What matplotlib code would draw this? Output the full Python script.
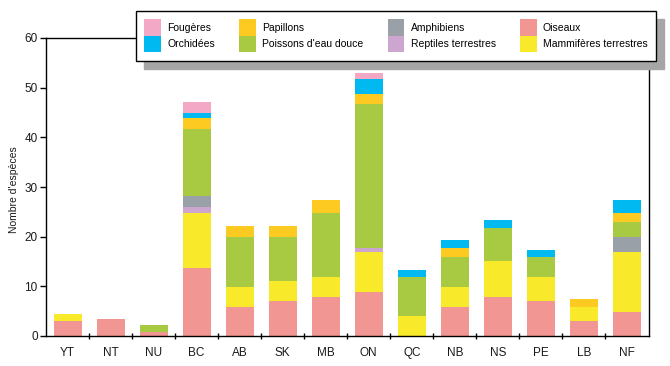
import matplotlib

matplotlib.use("Agg")
import matplotlib.pyplot as plt
import numpy as np
from matplotlib.patches import Patch

plt.rcParams["font.family"] = ["Liberation Sans", "DejaVu Sans"]

provinces = ["YT", "NT", "NU", "BC", "AB", "SK", "MB", "ON", "QC", "NB", "NS", "PE", "LB", "NF"]

# stacked from the bottom up
oiseaux = [3.0, 3.4, 0.9, 13.7, 5.8, 7.0, 7.8, 8.8, 0.0, 5.8, 7.8, 7.0, 3.0, 4.8]
mammiferes = [1.4, 0.0, 0.0, 11.0, 4.0, 4.0, 4.0, 8.1, 4.0, 4.0, 7.3, 4.8, 2.8, 12.1]
reptiles = [0.0, 0.0, 0.0, 1.2, 0.0, 0.0, 0.0, 0.8, 0.0, 0.0, 0.0, 0.0, 0.0, 0.0]
amphibiens = [0.0, 0.0, 0.0, 2.2, 0.0, 0.0, 0.0, 0.0, 0.0, 0.0, 0.0, 0.0, 0.0, 3.0]
poissons = [0.0, 0.0, 1.3, 13.5, 10.1, 8.9, 12.9, 29.1, 7.8, 6.1, 6.6, 4.1, 0.0, 3.0]
papillons = [0.0, 0.0, 0.0, 2.2, 2.2, 2.2, 2.6, 2.0, 0.0, 1.8, 0.0, 0.0, 1.6, 1.8]
orchidees = [0.0, 0.0, 0.0, 1.0, 0.0, 0.0, 0.0, 3.0, 1.5, 1.6, 1.6, 1.4, 0.0, 2.6]
fougeres = [0.0, 0.0, 0.0, 2.4, 0.0, 0.0, 0.0, 1.2, 0.0, 0.0, 0.0, 0.0, 0.0, 0.0]

series = [
    ("Oiseaux", oiseaux, "#f19692"),
    ("Mammifères terrestres", mammiferes, "#f9e92b"),
    ("Reptiles terrestres", reptiles, "#cda6cf"),
    ("Amphibiens", amphibiens, "#9aa0a7"),
    ("Poissons d'eau douce", poissons, "#a8c942"),
    ("Papillons", papillons, "#fdca22"),
    ("Orchidées", orchidees, "#00b9f1"),
    ("Fougères", fougeres, "#f3a9c5"),
]
colors = {name: c for name, _, c in series}

# legend reads column by column
legend_order = [
    "Fougères", "Orchidées",
    "Papillons", "Poissons d'eau douce",
    "Amphibiens", "Reptiles terrestres",
    "Oiseaux", "Mammifères terrestres",
]

fig = plt.figure(figsize=(6.7, 3.66), dpi=100)
ax = fig.add_axes([46 / 670, 30 / 366, 602.5 / 670, 298 / 366])

x = np.arange(len(provinces))
bottom = np.zeros(len(provinces))
for name, values, color in series:
    values = np.array(values)
    ax.bar(x, values, 0.65, bottom=bottom, color=color, linewidth=0, zorder=2)
    bottom += values

ax.set_xlim(-0.5, len(provinces) - 0.5)
ax.set_ylim(0, 60)
ax.set_yticks(range(0, 61, 10))
ax.set_xticks(x)
ax.set_xticklabels(provinces)
ax.set_xticks(x[:-1] + 0.5, minor=True)

ax.tick_params(axis="x", which="major", length=0, pad=8, labelsize=8.5, colors="#1a1a1a")
ax.tick_params(axis="x", which="minor", direction="inout", length=4, width=1, color="black")
ax.tick_params(axis="y", direction="out", length=4, width=1, pad=2, labelsize=8.5,
               color="black", labelcolor="#1a1a1a")

for side in ("left", "right", "top", "bottom"):
    ax.spines[side].set_linewidth(1.0)
    ax.spines[side].set_color("black")

ax.set_ylabel("Nombre d'espèces", fontsize=7.5, labelpad=4, color="#1a1a1a")
ax.yaxis.label.set_y(0.49)

handles = [Patch(facecolor=colors[n], edgecolor="none", label=n) for n in legend_order]
leg = ax.legend(
    handles=handles,
    ncol=4,
    loc="upper left",
    bbox_to_anchor=(136 / 670, 0.0, 520 / 670, 1 - 11 / 366),
    bbox_transform=fig.transFigure,
    mode="expand",
    borderaxespad=0,
    borderpad=0.8,
    fontsize=7.5,
    handlelength=1.6,
    handleheight=2.05,
    handletextpad=0.6,
    labelspacing=0,
    columnspacing=1.2,
    fancybox=False,
    framealpha=1,
    shadow={"ox": 6, "oy": -6, "color": "#a6a6a6", "alpha": 1},
)
leg.get_frame().set_edgecolor("black")
leg.get_frame().set_linewidth(1.0)
leg.set_zorder(10)

fig.savefig("out.png", dpi=100)
plt.close(fig)
